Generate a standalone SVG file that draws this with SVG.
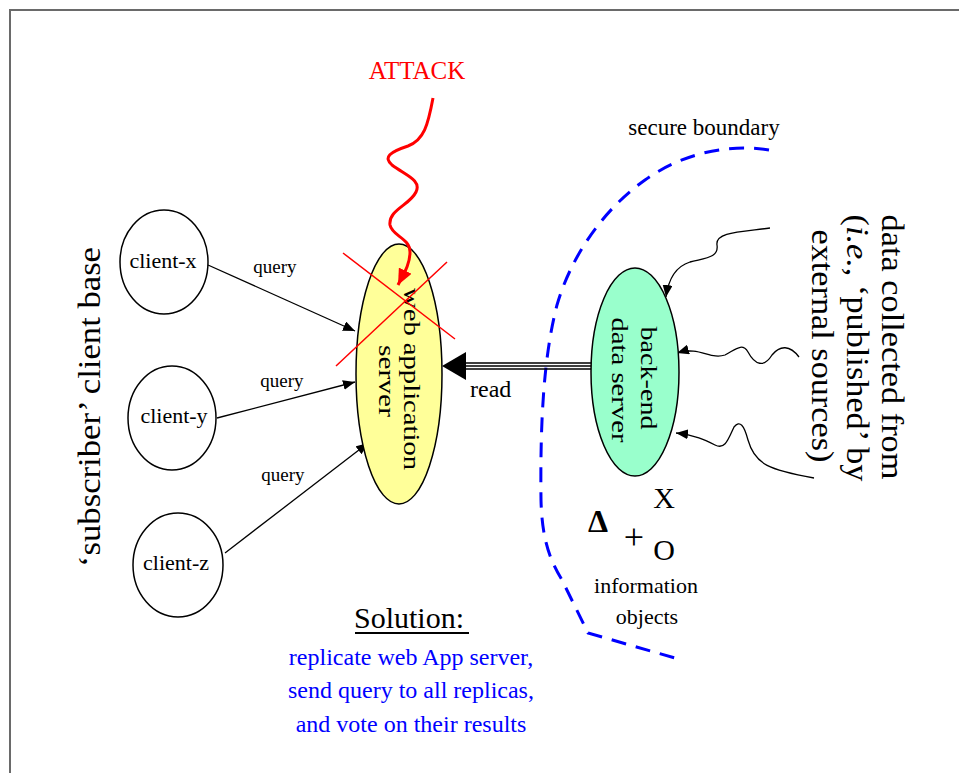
<svg xmlns="http://www.w3.org/2000/svg" width="959" height="773" viewBox="0 0 959 773">
  <style>
    .serif { font-family: "Liberation Serif", "Times New Roman", serif; fill: #000; }
    .client { fill: #fff; stroke: #000; stroke-width: 1.5; }
    .edge { fill: none; stroke: #000; stroke-width: 1.3; }
    .lbl { font-size: 22px; text-anchor: middle; }
    .qry { font-size: 19px; text-anchor: middle; }
    .blue { fill: #0000ff; font-size: 24px; text-anchor: middle; }
  </style>
  <defs>
    <marker id="arrowBlack" markerUnits="userSpaceOnUse" markerWidth="14" markerHeight="10" refX="12" refY="5" orient="auto">
      <path d="M0,0 L12,5 L0,10 Z" fill="#000"/>
    </marker>
    <marker id="arrowRed" markerUnits="userSpaceOnUse" markerWidth="18" markerHeight="14" refX="16" refY="7" orient="auto">
      <path d="M0,0 L16,7 L0,14 Z" fill="#ff0000"/>
    </marker>
  </defs>

  <rect width="959" height="773" fill="#fff"/>
  <!-- frame -->
  <path d="M10,773 L10,10 L959,10" fill="none" stroke="#6a6a6a" stroke-width="2"/>

  <!-- secure boundary -->
  <path id="secure-boundary" d="M769,150 C725,143 680,155 645,180 C600,212 570,260 557,305 C544,355 540,420 541,500 C542,540 550,560 562,580 L588,633 L682,660" fill="none" stroke="#0000ff" stroke-width="3" stroke-dasharray="15,10"/>
  <text class="serif" x="704" y="135" font-size="23" text-anchor="middle">secure boundary</text>

  <!-- connectors -->
  <g id="connectors">
    <path class="edge" d="M208,265 L355,331" marker-end="url(#arrowBlack)"/>
    <path class="edge" d="M217,418 L355,382" marker-end="url(#arrowBlack)"/>
    <path class="edge" d="M225,553 L368,443" marker-end="url(#arrowBlack)"/>
    <!-- read: triple line with large head -->
    <g id="read-edge" stroke="#000" stroke-width="1.3">
      <line x1="462" y1="363" x2="593" y2="363"/>
      <line x1="462" y1="366" x2="593" y2="366"/>
      <line x1="462" y1="369" x2="593" y2="369"/>
      <path d="M442,366 L466,352 L466,380 Z" fill="#000" stroke="none"/>
    </g>
    <!-- incoming external data -->
    <path class="edge" d="M770,228 C740,232 715,232 717,245 C719,258 705,258 690,262 C674,267 668,282 666,297" marker-end="url(#arrowBlack)"/>
    <path class="edge" d="M799,357 C790,345 780,345 772,355 C764,368 755,365 748,352 C742,342 735,350 725,355 C710,360 700,346 677,353" marker-end="url(#arrowBlack)"/>
    <path class="edge" d="M814,478 C770,470 755,465 748,440 C744,425 740,420 734,427 C728,440 725,450 715,445 C705,440 695,435 676,433" marker-end="url(#arrowBlack)"/>
  </g>

  <!-- edge labels -->
  <text class="serif qry" x="275" y="273">query</text>
  <text class="serif qry" x="282" y="387">query</text>
  <text class="serif qry" x="283" y="481">query</text>
  <text class="serif" x="470" y="397" font-size="24">read</text>

  <!-- clients -->
  <g id="client-x">
    <ellipse class="client" cx="164" cy="262" rx="44" ry="52"/>
    <text class="serif lbl" x="163" y="268">client-x</text>
  </g>
  <g id="client-y">
    <ellipse class="client" cx="172" cy="418" rx="44" ry="52"/>
    <text class="serif lbl" x="174" y="423">client-y</text>
  </g>
  <g id="client-z">
    <ellipse class="client" cx="178" cy="565" rx="45" ry="52"/>
    <text class="serif lbl" x="176" y="570">client-z</text>
  </g>

  <text class="serif" transform="translate(100,407) rotate(-90)" font-size="32" text-anchor="middle" textLength="320" lengthAdjust="spacingAndGlyphs">‘subscriber’ client base</text>

  <!-- web application server -->
  <g id="web-app-server">
    <ellipse cx="399" cy="374" rx="43" ry="130" fill="#ffff99" stroke="#000" stroke-width="1.5"/>
    <text class="serif" transform="translate(404,379) rotate(90)" font-size="23" text-anchor="middle" textLength="182" lengthAdjust="spacingAndGlyphs">web application</text>
    <text class="serif" transform="translate(379,381) rotate(90)" font-size="23" text-anchor="middle" textLength="72" lengthAdjust="spacingAndGlyphs">server</text>
  </g>

  <!-- attack -->
  <g id="attack">
    <text x="417" y="79" font-family="Liberation Serif, Times New Roman, serif" font-size="25" fill="#ff0000" text-anchor="middle">ATTACK</text>
    <path d="M433,98 C428,125 424,140 408,146 C390,152 383,157 392,165 C405,175 422,180 416,192 C410,205 388,210 390,225 C392,236 410,238 410,252 C410,265 403,275 398,285" fill="none" stroke="#ff0000" stroke-width="3" marker-end="url(#arrowRed)"/>
    <line x1="343" y1="253" x2="455" y2="339" stroke="#ff0000" stroke-width="1.5"/>
    <line x1="447" y1="262" x2="336" y2="366" stroke="#ff0000" stroke-width="1.5"/>
  </g>

  <!-- back-end data server -->
  <g id="backend-server">
    <ellipse cx="635" cy="372" rx="44" ry="104" fill="#99ffcc" stroke="#000" stroke-width="1.5"/>
    <text class="serif" transform="translate(641,378) rotate(90)" font-size="24" text-anchor="middle" textLength="103" lengthAdjust="spacingAndGlyphs">back-end</text>
    <text class="serif" transform="translate(612,380) rotate(90)" font-size="24" text-anchor="middle" textLength="125" lengthAdjust="spacingAndGlyphs">data server</text>
  </g>

  <!-- external sources -->
  <g id="external-sources" class="serif" font-size="31" text-anchor="middle">
    <text transform="translate(882,347) rotate(90)" textLength="265" lengthAdjust="spacingAndGlyphs">data collected from</text>
    <text transform="translate(847,348) rotate(90)" textLength="267" lengthAdjust="spacingAndGlyphs">(<tspan font-style="italic">i.e.</tspan>, ‘published’ by</text>
    <text transform="translate(812,346) rotate(90)" textLength="233" lengthAdjust="spacingAndGlyphs">external sources)</text>
  </g>

  <!-- information objects -->
  <g id="info-objects" class="serif">
    <text x="598" y="532" font-size="32" font-weight="bold" text-anchor="middle">Δ</text>
    <text x="664" y="508" font-size="30" text-anchor="middle">X</text>
    <text x="634" y="549" font-size="36" text-anchor="middle">+</text>
    <text x="664" y="560" font-size="30" text-anchor="middle">O</text>
    <text x="646" y="593" font-size="22" text-anchor="middle">information</text>
    <text x="647" y="624" font-size="22" text-anchor="middle">objects</text>
  </g>

  <!-- solution -->
  <g id="solution">
    <text class="serif" x="409" y="628" font-size="30" text-anchor="middle">Solution:</text>
    <line x1="355" y1="633" x2="469" y2="633" stroke="#000" stroke-width="2"/>
    <text class="blue" x="411" y="665" font-family="Liberation Serif, Times New Roman, serif">replicate web App server,</text>
    <text class="blue" x="411" y="698" font-family="Liberation Serif, Times New Roman, serif">send query to all replicas,</text>
    <text class="blue" x="411" y="732" font-family="Liberation Serif, Times New Roman, serif">and vote on their results</text>
  </g>
</svg>
